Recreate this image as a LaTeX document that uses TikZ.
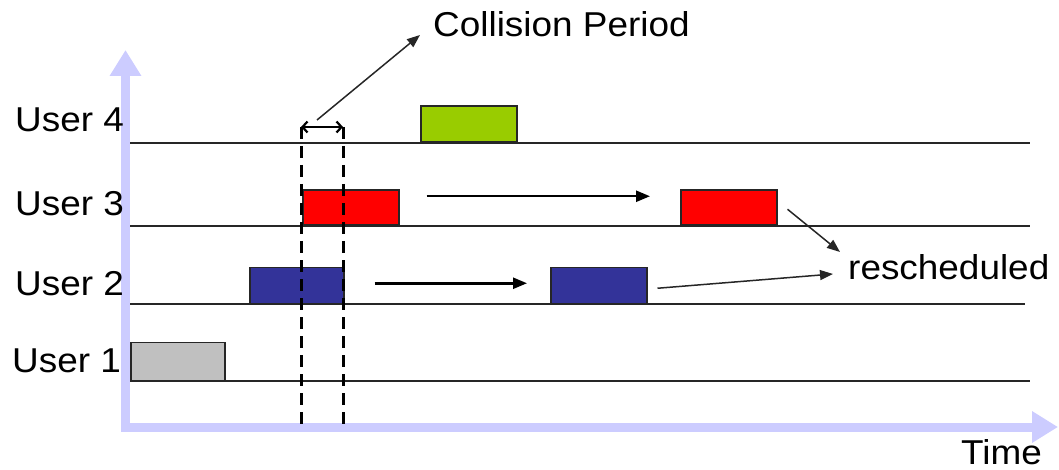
\documentclass[tikz,border=0pt]{standalone}
\usepackage{fontspec}
\setmainfont{Liberation Sans}[FakeStretch=1.07]
\usetikzlibrary{arrows.meta,calc}
\definecolor{axiscol}{HTML}{CCCCFF}
\definecolor{slotgray}{HTML}{C0C0C0}
\definecolor{slotblue}{HTML}{333399}
\definecolor{slotred}{HTML}{FF0000}
\definecolor{slotgreen}{HTML}{99CC00}
\begin{document}
\begin{tikzpicture}[x=1pt,y=-1pt,
  lbl/.style={font=\fontsize{34.5}{40}\selectfont, inner sep=0, anchor=base west},
  slot/.style={draw=black!85, line width=1.5pt, inner sep=0, minimum width=96pt, minimum height=36pt, anchor=south west},
  tline/.style={line width=1.5pt, black!85},
  axis/.style={axiscol, line width=9pt, -{Triangle[length=26pt,width=30pt]}},
  arr/.style={line width=2.5pt, -{Triangle[length=14pt,width=11pt]}},
  thinarr/.style={line width=1.5pt, black!85, -{Triangle[length=13pt,width=10pt]}},
  guide/.style={line width=3pt, dash pattern=on 12pt off 7pt}]
\useasboundingbox (0,0) rectangle (1059,470);

% axes
\coordinate (ya0) at (125.5,431.5);
\coordinate (ya1) at (125.5,50);
\coordinate (xa0) at (121,427);
\coordinate (xa1) at (1058,427);
\draw[axis] (ya0) -- (ya1);
\draw[axis] (xa0) -- (xa1);

% time lines of the four users
\coordinate (l4a) at (130,143); \coordinate (l4b) at (1030,143);
\coordinate (l3a) at (130,226); \coordinate (l3b) at (1030,226);
\coordinate (l2a) at (130,304); \coordinate (l2b) at (1025,304);
\coordinate (l1a) at (130,381); \coordinate (l1b) at (1030,381);
\draw[tline] (l4a) -- (l4b);
\draw[tline] (l3a) -- (l3b);
\draw[tline] (l2a) -- (l2b);
\draw[tline] (l1a) -- (l1b);

% labels
\node[lbl] (u4) at (15,132) {User 4};
\node[lbl] (u3) at (15,216) {User 3};
\node[lbl] (u2) at (15,295) {User 2};
\node[lbl] (u1) at (12,372) {User 1};
\node[lbl] (time) at (961,464) {Time};
\node[lbl] (cp) at (433,37) {Collision Period};
\node[lbl] (rs) at (848,279) {rescheduled};

% transmissions
\node[slot, fill=slotgray, minimum width=94pt, minimum height=38pt] (b1) at (130,381) {};
\node[slot, fill=slotblue, minimum width=94pt] (b2a) at (249,304) {};
\node[slot, fill=slotblue] (b2b) at (550,304) {};
\node[slot, fill=slotred, minimum height=35pt] (b3a) at (302,226) {};
\node[slot, fill=slotred, minimum height=35pt] (b3b) at (680,226) {};
\node[slot, fill=slotgreen] (b4) at (420,143) {};

% collision window
\coordinate (d1t) at (301,127); \coordinate (d1b) at (301,426);
\coordinate (d2t) at (343,127); \coordinate (d2b) at (343,426);
\draw[guide] (d1t) -- (d1b);
\draw[guide] (d2t) -- (d2b);
\draw[line width=2.2pt, {Straight Barb[length=5pt,width=11pt]}-{Straight Barb[length=5pt,width=11pt]}] (d1t) -- (d2t);

% pointer to the caption
\coordinate (cps) at (317,120);
\coordinate (cpe) at (420,35);
\draw[thinarr] (cps) -- (cpe);

% shifts of the retransmissions
\draw[arr] ($(b3a.east)+(27,-11.5)$) -- ($(b3b.west)+(-30,-11.5)$);
\draw[arr] ($(b2a.east)+(30,-2)$) -- ($(b2b.west)+(-23,-2)$);

% pointers to "rescheduled"
\coordinate (rsa) at (840,252);
\coordinate (rsb) at (833,274);
\draw[thinarr] ($(b3b.east)+(10,1.5)$) -- (rsa);
\draw[thinarr] ($(b2b.east)+(10,3)$) -- (rsb);
\end{tikzpicture}
\end{document}
